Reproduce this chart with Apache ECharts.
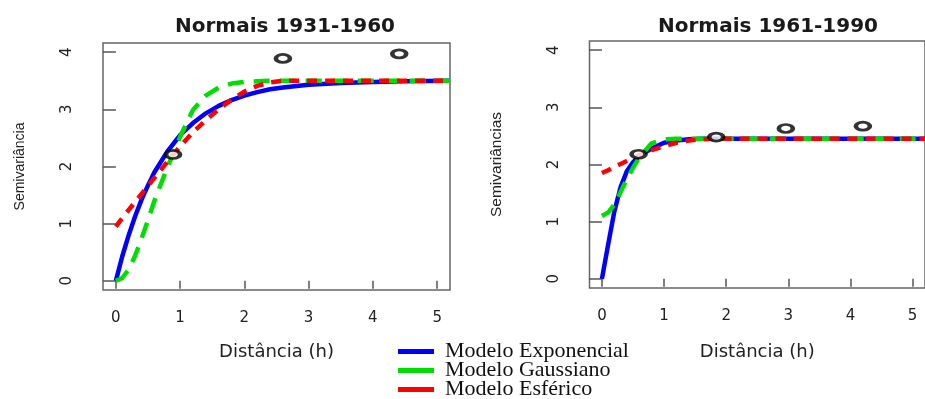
<!DOCTYPE html>
<html>
<head>
<meta charset="utf-8">
<script src="https://cdn.jsdelivr.net/npm/echarts@6/dist/echarts.min.js"></script>
<style>
  html, body { margin: 0; padding: 0; background: #fff; }
  #semivariograma { width: 925px; height: 399px; }
</style>
</head>
<body>
<div id="semivariograma"></div>
<script>
// distancias onde as curvas foram lidas
var distancias = [0, 0.1, 0.2, 0.3, 0.4, 0.5, 0.6, 0.8, 1.0, 1.2, 1.4, 1.6, 1.8, 2.0, 2.2, 2.4, 2.6, 3.0, 3.5, 4.0, 4.5, 5.2];

// Normais 1931-1960
var exp3160 = [0, 0.43, 0.80, 1.13, 1.42, 1.67, 1.90, 2.26, 2.55, 2.76, 2.93, 3.06, 3.16, 3.24, 3.30, 3.35, 3.38, 3.43, 3.46, 3.48, 3.49, 3.50];
var gau3160 = [0, 0.05, 0.20, 0.44, 0.74, 1.06, 1.40, 1.98, 2.52, 2.99, 3.24, 3.38, 3.45, 3.48, 3.49, 3.50, 3.50, 3.50, 3.50, 3.50, 3.50, 3.50];
var esf3160 = [0.95, 1.10, 1.24, 1.38, 1.52, 1.66, 1.80, 2.08, 2.35, 2.60, 2.81, 3.00, 3.17, 3.31, 3.41, 3.47, 3.50, 3.50, 3.50, 3.50, 3.50, 3.50];
var pontosX3160 = [0.89, 2.60, 4.41];
var pontosY3160 = [2.21, 3.89, 3.97];

// Normais 1961-1990
var exp6190 = [0, 0.60, 1.18, 1.60, 1.88, 2.04, 2.15, 2.28, 2.38, 2.42, 2.44, 2.45, 2.45, 2.45, 2.45, 2.45, 2.45, 2.45, 2.45, 2.45, 2.45, 2.45];
var gau6190 = [1.10, 1.16, 1.30, 1.52, 1.74, 1.94, 2.12, 2.37, 2.44, 2.45, 2.45, 2.45, 2.45, 2.45, 2.45, 2.45, 2.45, 2.45, 2.45, 2.45, 2.45, 2.45];
var esf6190 = [1.85, 1.90, 1.96, 2.01, 2.06, 2.11, 2.16, 2.25, 2.32, 2.38, 2.42, 2.44, 2.45, 2.45, 2.45, 2.45, 2.45, 2.45, 2.45, 2.45, 2.45, 2.45];
var pontosX6190 = [0.59, 1.84, 2.96, 4.20];
var pontosY6190 = [2.18, 2.48, 2.63, 2.67];

var ticksX = [0, 1, 2, 3, 4, 5];
var ticksY = [0, 1, 2, 3, 4];
var nomesModelos = ['Modelo Exponencial', 'Modelo Gaussiano', 'Modelo Esférico'];

function pares(xs, ys) {
    var out = [];
    for (var i = 0; i < xs.length; i++) {
        out.push([xs[i], ys[i]]);
    }
    return out;
}

var chartObj = document.getElementById('semivariograma');
var chart = echarts.init(chartObj, null, { renderer: 'canvas' });

function eixoX(idx, gap) {
    return {
        type: 'value', gridIndex: idx, min: -0.2, max: 5.2,
        name: 'Distância (h)', nameLocation: 'middle', nameGap: gap,
        nameTextStyle: { fontFamily: 'DejaVu Sans', fontSize: 18, color: '#222' },
        axisLine: { show: false },
        splitLine: { show: false },
        axisTick: { show: true, customValues: ticksX, length: 8, lineStyle: { color: '#555', width: 1.5 } },
        axisLabel: { customValues: ticksX, margin: 21, fontFamily: 'DejaVu Sans', fontSize: 15, color: '#222' }
    };
}

function eixoY(idx, nome, gap, tam) {
    return {
        type: 'value', gridIndex: idx, min: -0.16, max: 4.16,
        name: nome, nameLocation: 'middle', nameGap: gap, nameRotate: 90,
        nameTextStyle: { fontFamily: 'Liberation Sans', fontSize: tam, color: '#222' },
        axisLine: { show: false },
        splitLine: { show: false },
        axisTick: { show: true, customValues: ticksY, length: 13, lineStyle: { color: '#555', width: 1.5 } },
        axisLabel: { customValues: ticksY, rotate: 90, margin: 28, fontFamily: 'DejaVu Sans', fontSize: 15, color: '#222' }
    };
}

function curva(nome, idx, ys, cor, tipo) {
    return {
        name: nome, type: 'line', xAxisIndex: idx, yAxisIndex: idx,
        data: pares(distancias, ys),
        smooth: false,
        showSymbol: false, symbol: 'none',
        color: cor,
        lineStyle: { color: cor, width: 4.5, type: tipo, cap: 'butt', join: 'round' },
        z: 3
    };
}

function pontos(idx, xs, ys) {
    return {
        name: 'pontos' + idx, type: 'scatter', xAxisIndex: idx, yAxisIndex: idx,
        data: pares(xs, ys),
        symbol: 'circle', symbolSize: [14, 8],
        itemStyle: { color: '#fff', borderColor: '#000', borderWidth: 3.5 },
        z: 5
    };
}

// uma legenda por linha, para ficarem empilhadas como no original
function legenda(nome, topo) {
    return {
        data: [nome],
        orient: 'vertical', left: 398, top: topo, padding: 0,
        icon: 'rect', itemWidth: 36, itemHeight: 5, itemGap: 0,
        selectedMode: false,
        textStyle: { fontFamily: 'Liberation Serif', fontSize: 22, lineHeight: 19, color: '#111', padding: [0, 0, 0, 6] }
    };
}

var option = {
    animation: false,
    title: [
        { text: 'Normais 1931-1960', left: 280, top: 12, textAlign: 'center',
          textStyle: { fontFamily: 'DejaVu Sans', fontWeight: 'bold', fontSize: 20, color: '#1a1a1a' } },
        { text: 'Normais 1961-1990', left: 763, top: 12, textAlign: 'center',
          textStyle: { fontFamily: 'DejaVu Sans', fontWeight: 'bold', fontSize: 20, color: '#1a1a1a' } }
    ],
    legend: [
        legenda(nomesModelos[0], 340.5),
        legenda(nomesModelos[1], 359.5),
        legenda(nomesModelos[2], 378.5)
    ],
    grid: [
        { left: 103, top: 43, width: 347, height: 247, show: true, borderColor: '#666', borderWidth: 1.5 },
        { left: 589.5, top: 41, width: 343, height: 247, show: true, borderColor: '#666', borderWidth: 1.5 }
    ],
    xAxis: [eixoX(0, 53), eixoX(1, 55)],
    yAxis: [eixoY(0, 'Semivariância', 76, 14), eixoY(1, 'Semivariâncias', 85, 15.5)],
    series: [
        curva(nomesModelos[0], 0, exp3160, '#0000ff', 'solid'),
        curva(nomesModelos[1], 0, gau3160, '#00dd00', [16, 10]),
        curva(nomesModelos[2], 0, esf3160, '#ff0000', [10, 8]),
        pontos(0, pontosX3160, pontosY3160),
        curva(nomesModelos[0], 1, exp6190, '#0000ff', 'solid'),
        curva(nomesModelos[1], 1, gau6190, '#00dd00', [16, 10]),
        curva(nomesModelos[2], 1, esf6190, '#ff0000', [10, 8]),
        pontos(1, pontosX6190, pontosY6190)
    ]
};
chart.setOption(option);
</script>
</body>
</html>
